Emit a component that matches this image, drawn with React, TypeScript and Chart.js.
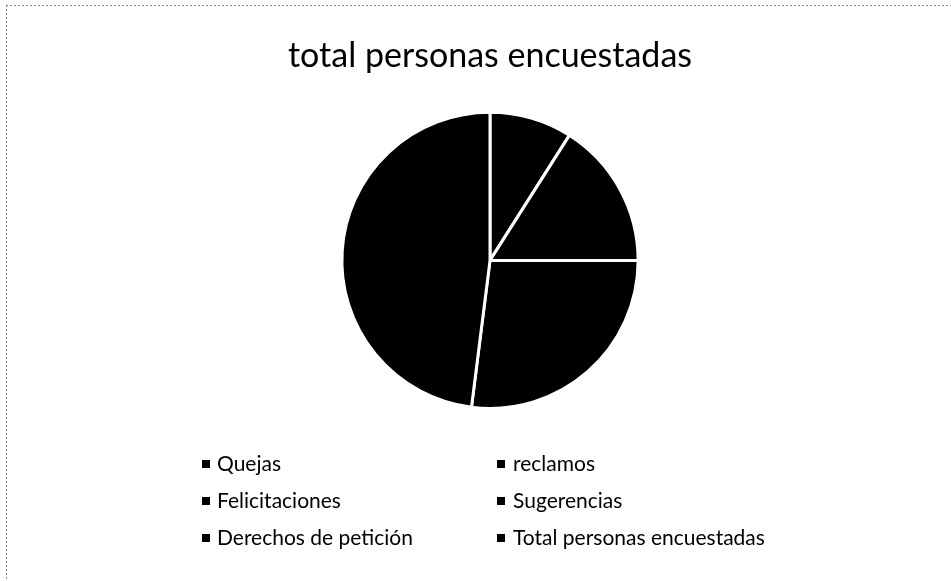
import React, { useEffect, useRef } from "react";
import { Chart, registerables } from "chart.js";

Chart.register(...registerables);

const categories = [
  "Quejas",
  "reclamos",
  "Felicitaciones",
  "Sugerencias",
  "Derechos de petición",
  "Total personas encuestadas",
];
const values = [9, 16, 27, 0, 0, 48];
const sliceColors = ["#000000", "#000000", "#000000", "#000000", "#000000", "#000000"];
const titleText = "total personas encuestadas";
const FONT = "Lato, 'Open Sans', sans-serif";

const gridLegend = {
  id: "gridLegend",
  afterDraw(chart: any) {
    const ctx = chart.ctx;
    const labels: string[] = chart.data.labels;
    const colors: string[] = chart.data.datasets[0].backgroundColor;
    const colMarker = [202, 497];
    const colText = [217, 513];
    const rows = [464, 501, 538];
    ctx.save();
    ctx.font = "21px " + FONT;
    ctx.textBaseline = "middle";
    ctx.textAlign = "left";
    labels.forEach((lab, i) => {
      const c = i % 2;
      const r = Math.floor(i / 2);
      ctx.fillStyle = colors[i];
      ctx.fillRect(colMarker[c], rows[r] - 4, 8, 8);
      ctx.fillStyle = "#000";
      ctx.fillText(lab, colText[c], rows[r]);
    });
    ctx.restore();
  },
};

const frame = {
  id: "frame",
  beforeDraw(chart: any) {
    const ctx = chart.ctx;
    ctx.save();
    ctx.fillStyle = "#fff";
    ctx.fillRect(0, 0, chart.width, chart.height);
    ctx.strokeStyle = "#888";
    ctx.lineWidth = 1;
    ctx.setLineDash([2, 2]);
    ctx.beginPath();
    ctx.moveTo(6.5, 5);
    ctx.lineTo(6.5, chart.height);
    ctx.moveTo(6, 5.5);
    ctx.lineTo(chart.width, 5.5);
    ctx.stroke();
    ctx.restore();
  },
};

export default function App() {
  const ref = useRef<HTMLCanvasElement | null>(null);
  useEffect(() => {
    document.body.style.margin = "0";
    const chart = new Chart(ref.current as HTMLCanvasElement, {
      type: "pie",
      data: {
        labels: categories,
        datasets: [
          {
            data: values,
            backgroundColor: sliceColors,
            borderColor: "#ffffff",
            borderWidth: 3,
          },
        ],
      },
      options: {
        responsive: false,
        animation: false,
        layout: { padding: { top: 0, bottom: 171, left: 29, right: 0 } },
        plugins: {
          legend: { display: false },
          tooltip: { enabled: false },
          title: {
            display: true,
            text: titleText,
            color: "#000",
            font: { family: FONT, size: 34, weight: "normal", lineHeight: 1.2 },
            padding: { top: 36, bottom: 34 },
          },
        },
      },
      plugins: [frame, gridLegend],
    });
    return () => chart.destroy();
  }, []);
  return <canvas ref={ref} width={951} height={581} style={{ display: "block" }} />;
}
